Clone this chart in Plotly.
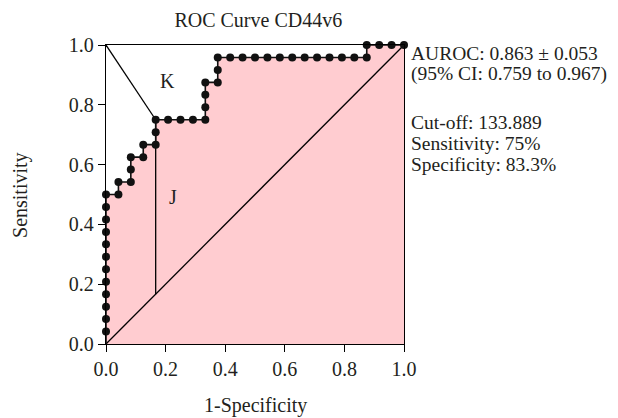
import plotly.graph_objects as go

# ROC curve points (1-Specificity, Sensitivity), 24 positives / 24 negatives
fpr = [0, 0, 0, 0, 0, 0, 0, 0, 0, 0, 0, 0,
       0.0417, 0.0417, 0.0833, 0.0833, 0.0833, 0.125, 0.125, 0.1667, 0.1667, 0.1667,
       0.2083, 0.25, 0.2917, 0.3333, 0.3333, 0.3333, 0.3333, 0.375, 0.375, 0.375,
       0.4167, 0.4583, 0.5, 0.5417, 0.5833, 0.625, 0.6667, 0.7083, 0.75, 0.7917, 0.8333, 0.875,
       0.875, 0.9167, 0.9583, 1.0]
tpr = [0.0417, 0.0833, 0.125, 0.1667, 0.2083, 0.25, 0.2917, 0.3333, 0.375, 0.4167, 0.4583, 0.5,
       0.5, 0.5417, 0.5417, 0.5833, 0.625, 0.625, 0.6667, 0.6667, 0.7083, 0.75,
       0.75, 0.75, 0.75, 0.75, 0.7917, 0.8333, 0.875, 0.875, 0.9167, 0.9583,
       0.9583, 0.9583, 0.9583, 0.9583, 0.9583, 0.9583, 0.9583, 0.9583, 0.9583, 0.9583, 0.9583, 0.9583,
       1.0, 1.0, 1.0, 1.0]

cutoff_fpr = 0.1667
cutoff_tpr = 0.75

info_lines = ["AUROC: 0.863 ± 0.053", "(95% CI: 0.759 to 0.967)",
              "Cut-off: 133.889", "Sensitivity: 75%", "Specificity: 83.3%"]

tick_vals = [0, 0.2, 0.4, 0.6, 0.8, 1.0]
tick_text = ["0.0", "0.2", "0.4", "0.6", "0.8", "1.0"]

FONT = "Liberation Serif"
TXT = "#231f20"
FS = 20
fig = go.Figure()

# Filled area under the curve
fig.add_trace(go.Scatter(x=[0] + fpr, y=[0] + tpr, mode="lines", line=dict(width=0),
                         fill="tozeroy", fillcolor="#FFCCD0", hoverinfo="skip"))
# Reference diagonal
fig.add_trace(go.Scatter(x=[0, 1], y=[0, 1], mode="lines", line=dict(color="black", width=1.3)))
# J (Youden) line
fig.add_trace(go.Scatter(x=[cutoff_fpr, cutoff_fpr], y=[cutoff_fpr, cutoff_tpr], mode="lines",
                         line=dict(color="black", width=1.3)))
# K line from (0,1)
fig.add_trace(go.Scatter(x=[0, cutoff_fpr], y=[1, cutoff_tpr], mode="lines",
                         line=dict(color="black", width=1.3)))
# ROC curve
fig.add_trace(go.Scatter(x=[0] + fpr, y=[0] + tpr, mode="lines", line=dict(color="#111", width=1.6),
                         hoverinfo="skip", cliponaxis=False))
fig.add_trace(go.Scatter(x=fpr, y=tpr, mode="markers", cliponaxis=False,
                         marker=dict(color="#111", size=8)))

fig.add_annotation(x=0.205, y=0.88, text="K", showarrow=False, font=dict(family=FONT, size=FS, color=TXT))
fig.add_annotation(x=0.226, y=0.49, text="J", showarrow=False, font=dict(family=FONT, size=FS, color=TXT))

y_pos = [0.973, 0.903, 0.742, 0.672, 0.602]
for t, yy in zip(info_lines, y_pos):
    fig.add_annotation(x=1.017, y=yy, xref="paper", yref="paper", text=t, showarrow=False,
                       xanchor="left", yanchor="middle",
                       font=dict(family=FONT, size=19.5, color=TXT))

# Axis titles
fig.add_annotation(x=0.5, y=-0.207, xref="paper", yref="paper", text="1-Specificity", showarrow=False,
                   xanchor="center", yanchor="middle", font=dict(family=FONT, size=FS, color=TXT))
fig.add_annotation(x=-0.287, y=0.5, xref="paper", yref="paper", text="Sensitivity", showarrow=False,
                   textangle=-90, xanchor="center", yanchor="middle",
                   font=dict(family=FONT, size=FS, color=TXT))

fig.update_layout(
    width=618, height=418,
    margin=dict(l=98, r=222, t=37, b=82),
    plot_bgcolor="white", paper_bgcolor="white",
    showlegend=False,
    font=dict(family=FONT, size=FS, color=TXT),
    title=dict(text="ROC Curve CD44v6", x=0.405, xanchor="center", y=0.972, yanchor="middle",
               yref="container", font=dict(family=FONT, size=FS, color=TXT)),
)
axis_common = dict(range=[0, 1], showgrid=False, zeroline=False, showline=True, mirror=True,
                   linecolor="black", linewidth=1.3, ticks="outside", ticklen=7, tickwidth=1.3,
                   tickcolor="black", tickvals=tick_vals, ticktext=tick_text, automargin=False,
                   tickfont=dict(family=FONT, size=FS, color=TXT))
fig.update_xaxes(**axis_common)
fig.update_yaxes(**axis_common)

fig.write_html("out.html")
